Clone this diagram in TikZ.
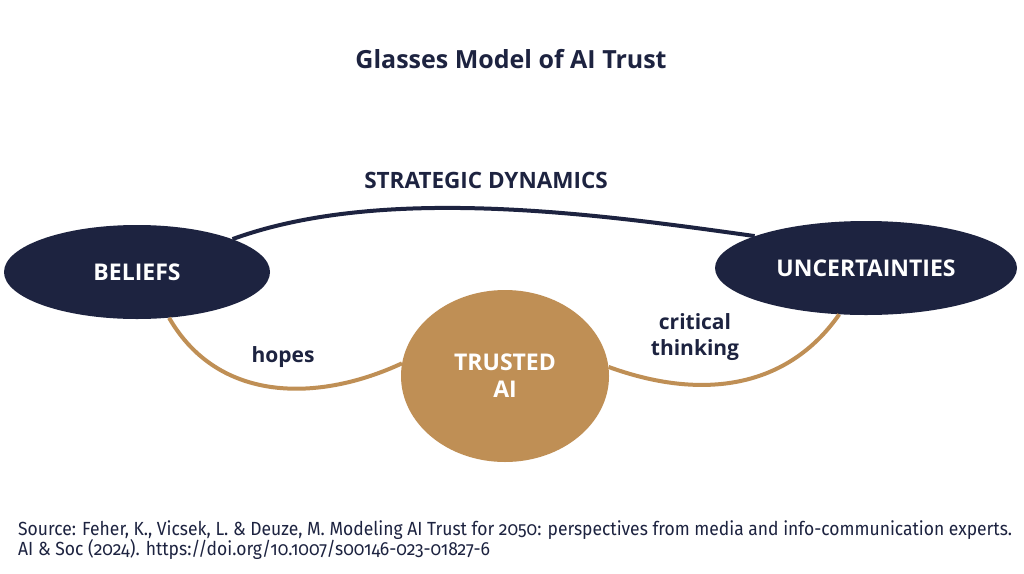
\documentclass[tikz,border=0pt]{standalone}
\usepackage{fontspec}
\setmainfont{Open Sans}
\newfontfamily\srcfont[Numbers=OldStyle,FakeStretch=0.92]{Fira Sans}
\usetikzlibrary{shapes.geometric}
\definecolor{navy}{HTML}{1D2340}
\definecolor{gold}{HTML}{BF8F55}

\begin{document}
\begin{tikzpicture}[x=1pt,y=-1pt,
    darkoval/.style={ellipse, fill=navy, text=white, inner sep=0pt,
      font=\bfseries\fontsize{23}{26}\selectfont},
    goldoval/.style={ellipse, fill=gold, text=white, inner sep=0pt, align=center,
      font=\bfseries\fontsize{23}{27}\selectfont},
    darklink/.style={navy, line width=4pt},
    goldlink/.style={gold, line width=4pt},
    linklabel/.style={text=navy, align=center, font=\bfseries\fontsize{21}{26}\selectfont}]
  %%%%% FRAME %%%%%
  \useasboundingbox[fill=white] (0,0) rectangle (1024,573);

  \node[text=navy, font=\bfseries\fontsize{25}{29}\selectfont] (title) at (511,59) {Glasses Model of AI Trust};

  %%%%% OVALS %%%%%
  \node[darkoval, minimum width=266pt, minimum height=94pt] (beliefs) at (137,272) {BELIEFS};
  \node[darkoval, minimum width=302pt, minimum height=94pt] (uncert) at (866,268) {UNCERTAINTIES};
  \node[goldoval, minimum width=208pt, minimum height=172pt] (trusted) at (505,376) {TRUSTED\\AI};

  %%%%% LINKS %%%%%
  \draw[darklink] (beliefs.19) .. controls +(-20:160) and +(188:160) .. (uncert.164);
  \draw[goldlink] (beliefs.-55) .. controls +(60:100) and +(155:90) .. (trusted.173);
  \draw[goldlink] (trusted.5) .. controls +(20:100) and +(125:90) .. (uncert.-120);

  \node[linklabel, font=\bfseries\fontsize{22.5}{26}\selectfont] (strat) at (486,180) {STRATEGIC DYNAMICS};
  \node[linklabel] (hopes) at (283,357) {hopes};
  \node[linklabel] (critical) at (695,337) {critical\\thinking};

  %%%%% SOURCE %%%%%
  \node[anchor=north west, align=left, text=navy, inner sep=0pt,
    font=\srcfont\fontsize{19}{20.5}\selectfont] (source) at (18,520)
    {Source: Feher, K., Vicsek, L. \& Deuze, M. Modeling AI Trust for 2050: perspectives from media and info-communication experts.\\
     AI \& Soc (2024). https://doi.org/10.1007/s00146-023-01827-6};
\end{tikzpicture}
\end{document}
